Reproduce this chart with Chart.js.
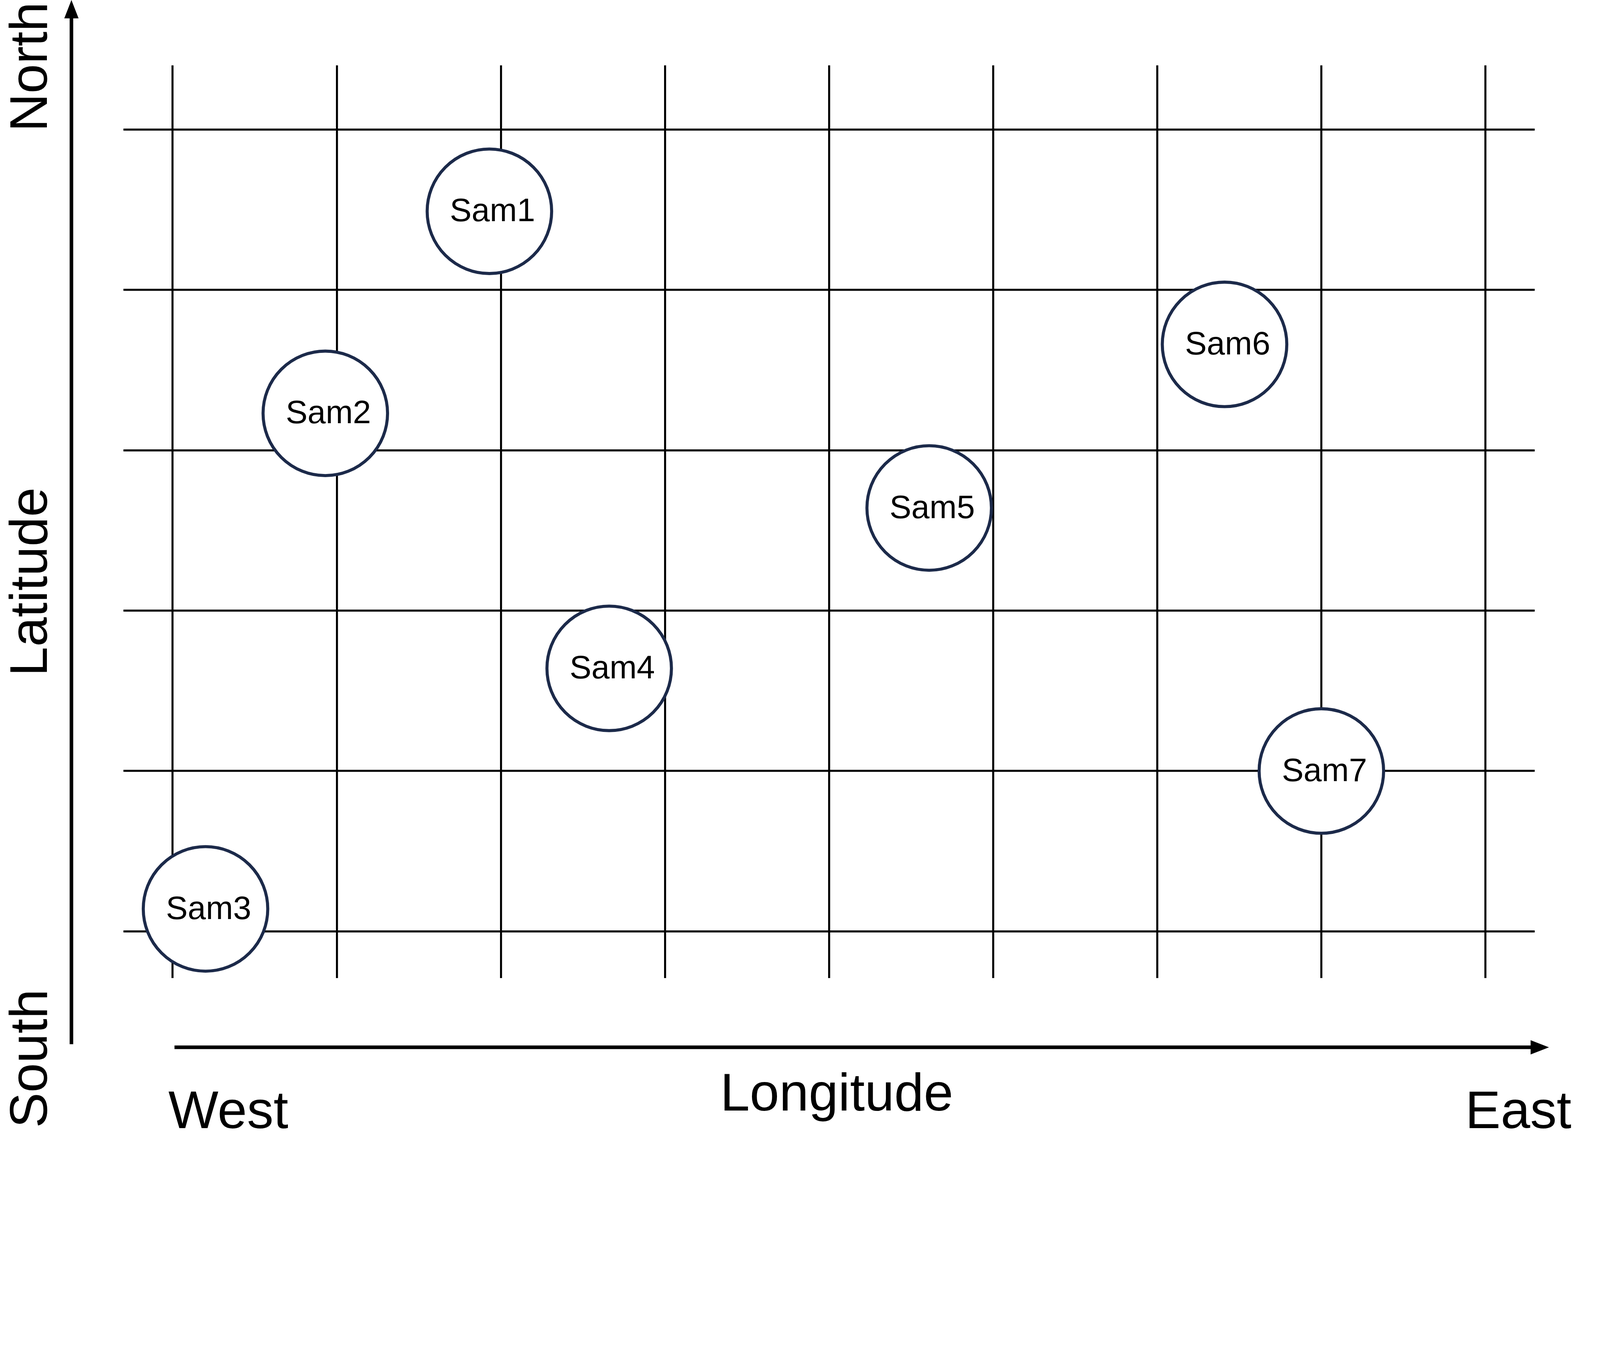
<!DOCTYPE html>
<html>
<head>
<meta charset="utf-8">
<script src="https://cdn.jsdelivr.net/npm/chart.js@4"></script>
<style>
  html, body { margin: 0; padding: 0; background: #fff; overflow: hidden; }
  #wrap { width: 100vw; height: 100vh; }
</style>
</head>
<body>
<div id="wrap"><canvas id="mapa"></canvas></div>
<script>
// sample locations on the grid (grid units, west->east, south->north)
const nomes = ['Sam1', 'Sam2', 'Sam3', 'Sam4', 'Sam5', 'Sam6', 'Sam7'];
const longitude = [1.93, 0.93, 0.20, 2.66, 4.61, 6.41, 7.00];
const latitude = [4.49, 3.23, 0.14, 1.64, 2.64, 3.66, 1.00];

const S = window.innerWidth / 1568; // reference scale
const fonte = '"Liberation Sans", Arial, sans-serif';

const pontos = longitude.map((x, i) => ({ x: x, y: latitude[i] }));

// only draw grid lines on whole numbers, not at the axis limits
function corGrade(c) {
  const v = c.tick ? c.tick.value : 0;
  return Math.abs(v - Math.round(v)) < 1e-6 ? '#000' : 'rgba(0,0,0,0)';
}

const extras = {
  id: 'extras',
  afterDatasetsDraw(chart) {
    const ctx = chart.ctx;
    const meta = chart.getDatasetMeta(0);
    ctx.save();
    ctx.fillStyle = '#000';
    ctx.font = (32 * S) + 'px ' + fonte;
    ctx.textAlign = 'center';
    ctx.textBaseline = 'middle';
    meta.data.forEach((p, i) => {
      ctx.fillText(nomes[i], p.x + 3 * S, p.y + 1 * S);
    });
    ctx.restore();
  },
  afterDraw(chart) {
    const ctx = chart.ctx;
    ctx.save();
    ctx.strokeStyle = '#000';
    ctx.fillStyle = '#000';
    ctx.lineWidth = 3.5 * S;
    // vertical arrow
    ctx.beginPath();
    ctx.moveTo(70 * S, 1023 * S);
    ctx.lineTo(70 * S, 12 * S);
    ctx.stroke();
    ctx.beginPath();
    ctx.moveTo(70 * S, 0);
    ctx.lineTo(63 * S, 18 * S);
    ctx.lineTo(77 * S, 18 * S);
    ctx.closePath();
    ctx.fill();
    // horizontal arrow
    ctx.beginPath();
    ctx.moveTo(171 * S, 1026 * S);
    ctx.lineTo(1505 * S, 1026 * S);
    ctx.stroke();
    ctx.beginPath();
    ctx.moveTo(1518 * S, 1026 * S);
    ctx.lineTo(1500 * S, 1019 * S);
    ctx.lineTo(1500 * S, 1033 * S);
    ctx.closePath();
    ctx.fill();

    ctx.font = (52 * S) + 'px ' + fonte;
    ctx.textBaseline = 'alphabetic';
    ctx.textAlign = 'left';
    ctx.fillText('West', 165 * S, 1105 * S);
    ctx.textAlign = 'right';
    ctx.fillText('East', 1540 * S, 1105 * S);
    ctx.textAlign = 'center';
    ctx.fillText('Longitude', 820 * S, 1088 * S);

    ctx.translate(46 * S, 0);
    ctx.rotate(-Math.PI / 2);
    ctx.textAlign = 'right';
    ctx.fillText('North', -2 * S, 0);
    ctx.textAlign = 'center';
    ctx.fillText('Latitude', -570 * S, 0);
    ctx.textAlign = 'left';
    ctx.fillText('South', -1105 * S, 0);
    ctx.restore();
  }
};

new Chart(document.getElementById('mapa'), {
  type: 'scatter',
  data: {
    datasets: [{
      data: pontos,
      backgroundColor: '#ffffff',
      borderColor: '#1c2a4a',
      borderWidth: 3 * S,
      pointRadius: 61 * S,
      pointHoverRadius: 61 * S
    }]
  },
  options: {
    responsive: true,
    maintainAspectRatio: false,
    animation: false,
    layout: { padding: { left: 121 * S, top: 0, right: 0, bottom: window.innerHeight - 958 * S } },
    plugins: { legend: { display: false }, tooltip: { enabled: false } },
    scales: {
      x: {
        type: 'linear', min: -0.3, max: 8.3,
        ticks: { display: false, stepSize: 1 },
        border: { display: false },
        grid: { color: corGrade, lineWidth: 2 * S, drawTicks: false }
      },
      y: {
        type: 'linear', min: -0.29, max: 5.4,
        ticks: { display: false, stepSize: 1 },
        border: { display: false },
        grid: { color: corGrade, lineWidth: 2 * S, drawTicks: false }
      }
    }
  },
  plugins: [extras]
});
</script>
</body>
</html>
